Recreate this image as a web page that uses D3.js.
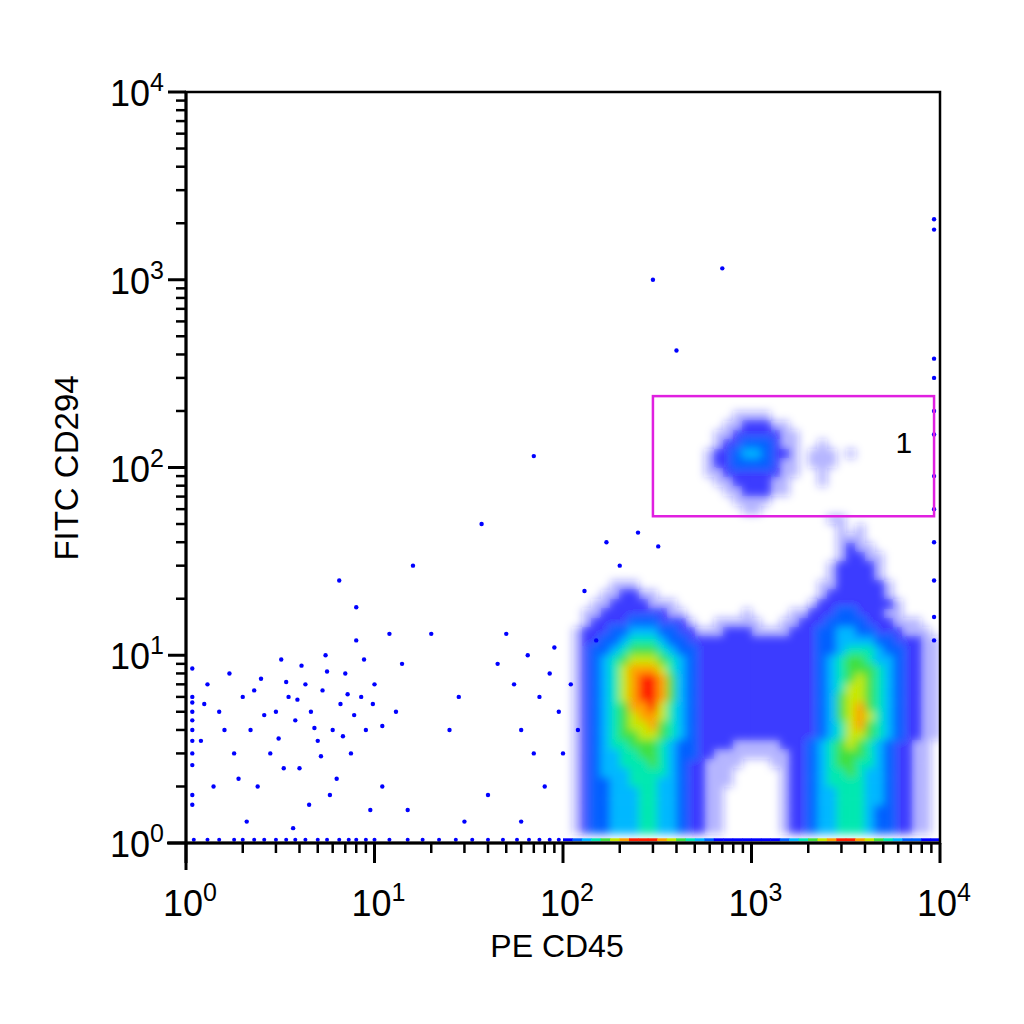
<!DOCTYPE html>
<html><head><meta charset="utf-8">
<script src="https://cdn.jsdelivr.net/npm/d3@7/dist/d3.min.js"></script>
<style>body{margin:0;background:#fff}</style></head>
<body><svg id="c" width="1024" height="1024"></svg>
<script>
// density grid: columns log10(PE CD45) from 2.00 step 0.05; rows log10(FITC CD294), top row first
const gridX0 = 2.0, gridStep = 0.05;
const gridYTop = 2.30;
const densityRows = [
"0000000000000000000000000000000000000000",
"0000000000000000001111000000000000000000",
"0000000000000000011222110000000000000000",
"0000000000000000112222211000000000000000",
"0000000000000000122333211001000000000000",
"0000000000000001223443221011101000000000",
"0000000000000001223333211011100000000000",
"0000000000000001122222211001000000000000",
"0000000000000000112222110001000000000000",
"0000000000000000011222110000000000000000",
"0000000000000000001111000000000000000000",
"0000000000000000000110000000000000000000",
"0000000000000000000000000000110000000000",
"0000000000000000000000000000010100000000",
"0000000000000000000000000000011100000000",
"0000000000000000000000000000012110000000",
"0000000000000000000000000000012211000000",
"0000000000000000000000000000122221000000",
"0000000000000000000000000000122221000000",
"0000011100000000000000000001122222100000",
"0000112211000000000000000001222222100000",
"0001122221110000000000000012222222210000",
"0011222222211000000100001122233222110000",
"0012222333222100111110011222333322211100",
"0122233444332211122211112223344332221110",
"0122334555433222222222222223344443322211",
"0123345666543322222222222223345554332211",
"0123456777654322222222222223456654432211",
"0123457888754322222222222223456665432211",
"0123457899864322222222222223456765432211",
"0123457899864322222222222223457765432211",
"0123457899864322222222222223467765432211",
"0123456889754322222222222223467865432211",
"0123456788754322222222222223467875432211",
"0123456778654322222222222223457865432211",
"0123456677654322222222222223457765432211",
"0123455666543322221111122234567654322110",
"0123445566543322111111112234566654322110",
"0123445556543221111000112234566554322110",
"0123444555543221110000012234556544322110",
"0123344555443221110000012234555544322110",
"0123344455443221100000012234455544322110",
"0123344455443221100000012234455544322110",
"0123344455443221100000012234455543322110",
"0123344455443221100000012234455543322110",
"0123344455443221100000012234455543322110"
];
// baseline strip (FITC ~ 1.07) levels per column
const baselineRow = "2345678999876543222222234567899876543322";
// sparse events [PE CD45, FITC CD294]
const sparseEvents = [[1.3,7],[1.5,5],[1.7,8],[2,6],[2.2,4],[2.5,7.5],[2.8,3],[3,5],[3.2,9.5],[3.5,6],[3.8,4.5],[4,2.5],[4.3,7],[4.6,5],[5,3.5],[5.3,6.5],[5.5,10],[6,4],[6.3,2.2],[6.6,5.5],[7,8],[7.5,3],[8,12],[8.5,6],[9,4],[10,7],[11,2],[12,13],[13,5],[14,9],[1.4,2],[1.8,3],[2.4,2],[3.3,2.5],[4.5,1.6],[5.8,1.8],[9.5,1.5],[20,13],[25,4],[28,6],[40,1.8],[45,9],[50,13],[55,7],[60,4],[65,10],[70,3],[75,6],[80,2],[85,8],[90,11],[95,5],[100,3],[110,7],[120,4],[2.1,1.3],[15,1.5],[30,1.3],[60,1.3],[1.2,3.5],[3.7,1.2],[1.25,5.5],[1.9,2.2],[2.6,4.8],[3.1,3.6],[3.9,5.8],[4.8,4.1],[5.2,2.9],[6.8,3.7],[7.8,4.8],[8.8,9.5],[7.2,6.2],[4.1,8.8],[2.3,6.5],[1.6,4],[3.4,7.2],[5.6,8.2],[9.8,5.5],[11,4.2],[16,30],[6.5,25],[8,18],[37,50],[70,115],[300,1000],[700,1150],[400,420],[9300,2100],[9300,1850],[170,40],[200,30],[250,45],[320,38],[130,22],[150,12],[9300,380],[9300,300],[9300,200],[9300,150],[9300,90],[9300,60],[9300,40],[9300,25],[9300,16],[9300,12],[1.08,2.6],[1.08,3],[1.08,3.5],[1.08,4],[1.08,4.5],[1.08,5],[1.08,5.6],[1.08,6],[1.08,1.6],[1.08,1.8],[1.08,8.5]];
const baselineLeft = [1.1,1.3,1.5,1.8,2,2.3,2.6,3,3.4,3.8,4.3,5,5.6,6.5,7.3,8,9,10,12,15,18,22,27,33,40,48,57,66,75,85,95];
const gate = {x0:300, x1:9300, y0:55, y1:240, label:"1"};
const xTicks = [1,10,100,1000,10000];
const yTicks = [1,10,100,1000,10000];

const svg = d3.select("#c");
const L=186,R=940,T=92,B=843;
const x = d3.scaleLog().domain([1,10000]).range([L,R]);
const y = d3.scaleLog().domain([1,10000]).range([B,T]);
const colors = ["#fff","#2020ff","#0000ff","#0060ff","#00b8ff","#00e8b0","#40e040","#c8e800","#ffa000","#ff2000"];
const opac = [0,0.3,0.75,1,1,1,1,1,1,1];

const defs = svg.append("defs");
defs.append("clipPath").attr("id","pc").append("rect").attr("x",L).attr("y",T).attr("width",R-L).attr("height",B-T);
defs.append("filter").attr("id","bl").attr("x","-5%").attr("y","-5%").attr("width","110%").attr("height","110%")
  .append("feGaussianBlur").attr("stdDeviation",4);
const g = svg.append("g").attr("clip-path","url(#pc)");
const cells=[];
densityRows.forEach((row,ri)=>{const yl=gridYTop-ri*gridStep;
  for(let c=0;c<row.length;c++){const v=+row[c]; if(v>0) cells.push({xl:gridX0+c*gridStep,yl,v});}});
const gg = g.append("g").attr("filter","url(#bl)");
gg.selectAll("rect").data(cells).join("rect")
  .attr("x",d=>x(10**d.xl)).attr("width",d=>x(10**(d.xl+gridStep))-x(10**d.xl)+0.5)
  .attr("y",d=>y(10**(d.yl+gridStep))).attr("height",d=>y(10**d.yl)-y(10**(d.yl+gridStep))+0.5)
  .attr("fill",d=>colors[d.v]).attr("fill-opacity",d=>opac[d.v]);
g.selectAll("circle.s").data(sparseEvents).join("circle").attr("class","s")
  .attr("cx",d=>x(d[0])).attr("cy",d=>y(d[1])).attr("r",2.2).attr("fill","#0000ff");
g.selectAll("circle.b").data(baselineLeft).join("circle").attr("class","b")
  .attr("cx",d=>x(d)).attr("cy",y(1.04)).attr("r",2).attr("fill","#0000ff");
const bl=[];for(let c=0;c<baselineRow.length;c++)bl.push({xl:gridX0+c*gridStep,v:+baselineRow[c]});
g.selectAll("rect.bl").data(bl).join("rect").attr("class","bl")
  .attr("x",d=>x(10**d.xl)).attr("width",d=>x(10**(d.xl+gridStep))-x(10**d.xl)+0.5)
  .attr("y",y(1.04)-1.5).attr("height",3).attr("fill",d=>colors[d.v]);

svg.append("rect").attr("x",x(gate.x0)).attr("y",y(gate.y1)).attr("width",x(gate.x1)-x(gate.x0)).attr("height",y(gate.y0)-y(gate.y1))
  .attr("fill","none").attr("stroke","#e020e0").attr("stroke-width",2.5);
const font="Liberation Sans, Arial, sans-serif";
svg.append("text").attr("x",x(5800)).attr("y",y(120)).attr("font-family",font).attr("font-size",30).text(gate.label);

svg.append("rect").attr("x",L).attr("y",T).attr("width",R-L).attr("height",B-T).attr("fill","none").attr("stroke","#000").attr("stroke-width",2.5);
const minor=[];for(let d=0;d<4;d++)for(let k=2;k<10;k++)minor.push(k*10**d);
const ax=svg.append("g").attr("stroke","#000");
ax.append("line").attr("x1",167).attr("x2",R).attr("y1",B).attr("y2",B).attr("stroke-width",3);
ax.append("line").attr("x1",L).attr("x2",L).attr("y1",T).attr("y2",870).attr("stroke-width",3);
ax.selectAll("line.mx").data(minor).join("line").attr("x1",d=>x(d)).attr("x2",d=>x(d)).attr("y1",B).attr("y2",B+10).attr("stroke-width",2.5);
ax.selectAll("line.Mx").data(xTicks).join("line").attr("x1",d=>x(d)).attr("x2",d=>x(d)).attr("y1",B).attr("y2",B+20).attr("stroke-width",3);
ax.selectAll("line.my").data(minor).join("line").attr("y1",d=>y(d)).attr("y2",d=>y(d)).attr("x1",L).attr("x2",L-10).attr("stroke-width",2.5);
ax.selectAll("line.My").data(yTicks).join("line").attr("y1",d=>y(d)).attr("y2",d=>y(d)).attr("x1",L).attr("x2",L-18).attr("stroke-width",3);
xTicks.forEach(t=>{const e=Math.round(Math.log10(t));
  const tx=svg.append("text").attr("x",x(t)+4).attr("y",916).attr("text-anchor","middle").attr("font-family",font).attr("font-size",36);
  tx.append("tspan").text("10"); tx.append("tspan").attr("dy",-15).attr("font-size",25).text(e);});
yTicks.forEach(t=>{const e=Math.round(Math.log10(t));
  const tx=svg.append("text").attr("x",L-22).attr("y",y(t)+14).attr("text-anchor","end").attr("font-family",font).attr("font-size",36);
  tx.append("tspan").text("10"); tx.append("tspan").attr("dy",-15).attr("font-size",25).text(e);});
svg.append("text").attr("x",557).attr("y",957).attr("text-anchor","middle").attr("font-family",font).attr("font-size",32).text("PE CD45");
svg.append("text").attr("transform","translate(78,468) rotate(-90)").attr("text-anchor","middle").attr("font-family",font).attr("font-size",33).text("FITC CD294");
</script></body></html>
